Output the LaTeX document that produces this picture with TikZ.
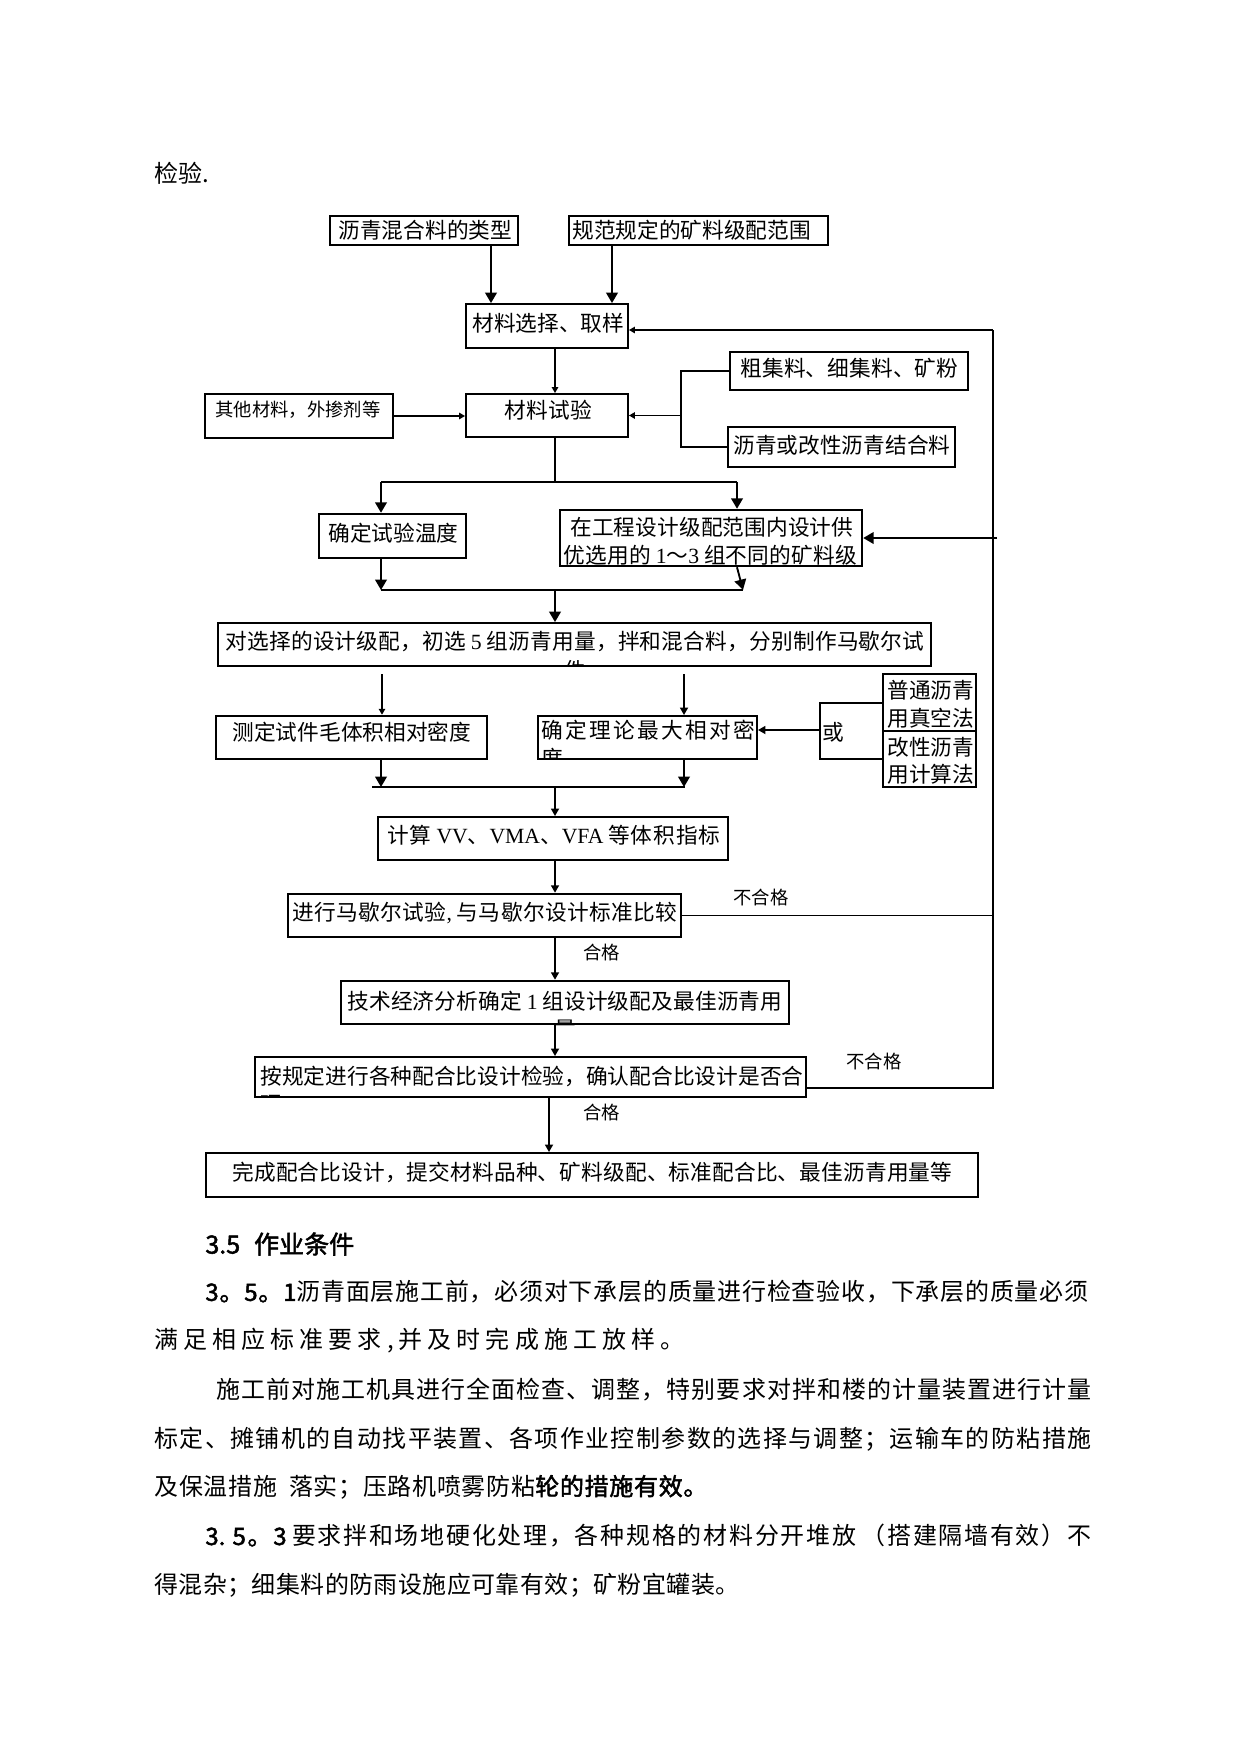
\documentclass[tikz,border=0pt]{standalone}
\usepackage{fontspec}
\setmainfont{Noto Sans CJK SC}
\newfontfamily\lat{Liberation Serif}
\newfontfamily\cjkb{Noto Sans CJK SC}[FakeBold=2]
\usetikzlibrary{arrows.meta}
\newlength\pxu \setlength\pxu{0.4797pt}
\XeTeXinterchartokenstate=1
\newcount\ccnt
\ccnt="4E00 \loop \XeTeXcharclass\ccnt=7 \ifnum\ccnt<"9FFF \advance\ccnt by 1 \repeat
\ccnt="3000 \loop \XeTeXcharclass\ccnt=7 \ifnum\ccnt<"303F \advance\ccnt by 1 \repeat
\ccnt="FF00 \loop \XeTeXcharclass\ccnt=7 \ifnum\ccnt<"FFEF \advance\ccnt by 1 \repeat
\XeTeXinterchartoks 7 7 = {\hskip 0pt plus 1fil\relax}
\XeTeXinterchartoks 7 0 = {\hskip 0pt plus 1fil\relax}
\XeTeXinterchartoks 0 7 = {\hskip 0pt plus 1fil\relax}
\newcommand\jw[2]{\makebox[#1\pxu][s]{#2}}
\newcommand\bxf{\fontsize{10.4pt}{12pt}\selectfont}
\newcommand\smf{\fontsize{8.8pt}{10pt}\selectfont}
\newcommand\bdf{\fontsize{11.5pt}{14pt}\selectfont}
\newcommand\bx[6]{\node[#6, minimum width={(#4-#2)*\pxu}, minimum height={(#5-#3)*\pxu}] (#1) at ({(#2+#4)/2},{(#3+#5)/2}) {};}
\tikzset{
 bxthick/.style={draw, line width=1.2pt, inner sep=0pt},
 bxmid/.style={draw, line width=0.9pt, inner sep=0pt},
 bxthin/.style={draw, line width=0.5pt, inner sep=0pt},
 txt/.style={anchor=west, inner sep=0pt, font=\bxf},
 ctxt/.style={inner sep=0pt, font=\bxf},
 lbl/.style={anchor=west, inner sep=0pt, font=\smf},
 body/.style={anchor=west, inner sep=0pt, font=\bdf},
 conn/.style={line width=0.9pt},
 thinconn/.style={line width=0.5pt},
 arbig/.style={conn, -{Triangle[length=5pt,width=5.6pt]}},
 armid/.style={conn, -{Triangle[length=3.6pt,width=3.8pt]}},
 arsml/.style={conn, -{Triangle[length=2.8pt,width=3pt]}},
}
\begin{document}
\begin{tikzpicture}[x=0.4797pt, y=-0.4797pt]
\useasboundingbox (0,0) rectangle (1241,1754);
\fill[white] (0,0) rectangle (1241,1754);

% boxes
\bx{t1}{330}{216}{518}{245}{bxthick}
\bx{t2}{569}{216}{828}{245}{bxmid}
\bx{s1}{466}{304}{628}{348}{bxmid}
\bx{s2}{466}{394}{628}{437}{bxmid}
\bx{o1}{205}{394}{393}{438}{bxthick}
\bx{r1}{730}{352}{968}{390}{bxmid}
\bx{r2}{728}{427}{955}{467}{bxthin}
\bx{w1}{319}{514}{466}{558}{bxthick}
\bx{w2}{560}{510}{862}{566}{bxthick}
\bx{d1}{218}{623}{931}{666}{bxmid}
\bx{m1}{216}{716}{487}{759}{bxthick}
\bx{m2}{538}{716}{757}{759}{bxmid}
\bx{p1}{883}{674}{976}{731}{bxmid}
\bx{p2}{883}{731}{976}{787}{bxmid}
\bx{c1}{378}{817}{728}{860}{bxmid}
\bx{k1}{288}{894}{681}{937}{bxthick}
\bx{j1}{341}{981}{789}{1024}{bxthick}
\bx{a1}{255}{1057}{806}{1097}{bxmid}
\bx{f1}{206}{1153}{978}{1197}{bxmid}

% box texts
\node[txt] (t1t) at (338,230) {\jw{174}{沥青混合料的类型}};
\node[txt] (t2t) at (572,230) {\jw{238}{规范规定的矿料级配范围}};
\node[txt] (s1t) at (472,323) {\jw{151}{材料选择、取样}};
\node[txt] (s2t) at (504,410) {\jw{88}{材料试验}};
\node[txt,font=\smf] (o1t) at (215,410) {\jw{165}{其他材料，外掺剂等}};
\node[txt] (r1t) at (740,368) {\jw{218}{粗集料、细集料、矿粉}};
\node[txt] (r2t) at (733,445) {\jw{217}{沥青或改性沥青结合料}};
\node[txt] (w1t) at (328,533) {\jw{130}{确定试验温度}};
\node[txt] (w2a) at (570,527) {\jw{283}{在工程设计级配范围内设计供}};
\node[txt] (w2b) at (563,555) {\jw{294}{优选用的 {\lat 1}～{\lat 3} 组不同的矿料级}};
\node[txt] (d1a) at (225,642) {\jw{699}{对选择的设计级配，初选 {\lat 5} 组沥青用量，拌和混合料，分别制作马歇尔试}};
\begin{scope}
\clip (d1.south west) rectangle (d1.north east);
\node[ctxt] (d1b) at (575,670) {件};
\end{scope}
\node[txt] (m1t) at (232,732) {\jw{239}{测定试件毛体积相对密度}};
\node[txt] (m2t) at (541,730) {\jw{214}{确定理论最大相对密}};
\begin{scope}
\clip (m2.south west) rectangle (m2.north east);
\node[txt] (m2b) at (541,758) {度};
\end{scope}
\node[txt] (ort) at (822,732) {或};
\node[txt] (p1a) at (887,690) {普通沥青};
\node[txt] (p1b) at (887,718) {用真空法};
\node[txt] (p2a) at (887,747) {改性沥青};
\node[txt] (p2b) at (887,774) {用计算法};
\node[txt] (c1t) at (387,835) {\jw{333}{计算 {\lat VV}、{\lat VMA}、{\lat VFA} 等体积指标}};
\node[txt] (k1t) at (292,913) {\jw{385}{进行马歇尔试验{\lat ,} 与马歇尔设计标准比较}};
\node[txt] (j1t) at (347,1001) {\jw{435}{技术经济分析确定 {\lat 1} 组设计级配及最佳沥青用}};
\begin{scope}
\clip (j1.south west) rectangle (j1.north east);
\node[ctxt] (j1b) at (565,1029) {量};
\end{scope}
\node[txt] (a1t) at (260,1076) {\jw{543}{按规定进行各种配合比设计检验，确认配合比设计是否合}};
\begin{scope}
\clip (a1.south west) rectangle (a1.north east);
\node[txt] (a1b) at (260,1104) {理};
\end{scope}
\node[txt] (f1t) at (232,1172) {\jw{720}{完成配合比设计，提交材料品种、矿料级配、标准配合比、最佳沥青用量等}};

% labels
\node[lbl] (ng1) at (733,898) {不合格};
\node[lbl] (ok1) at (583,952) {合格};
\node[lbl] (ng2) at (846,1061) {不合格};
\node[lbl] (ok2) at (583,1112) {合格};

% coordinates
\coordinate (xa) at (491,0);
\coordinate (xb) at (612,0);
\coordinate (cC) at (555,0);
\coordinate (cF) at (549,0);
\coordinate (brx) at (681,0);
\coordinate (fbx) at (993,0);
\coordinate (yFb) at (0,330);
\coordinate (yA1) at (0,1088);
\coordinate (spL) at (381,482);
\coordinate (spR) at (737,482);
\coordinate (mgL) at (381,590);
\coordinate (mgR) at (743,590);
\coordinate (dA) at (382,674);
\coordinate (dB) at (684,674);
\coordinate (mg2L) at (372,787);
\coordinate (mg2R) at (685,787);
\coordinate (orTop) at (820,703);
\coordinate (orBot) at (820,759);
\coordinate (orMid) at (820,730);
\coordinate (fbw) at (997,538);

% connectors
\draw[arbig] (t1.south -| xa) -- (s1.north -| xa);
\draw[arbig] (t2.south -| xb) -- (s1.north -| xb);
\draw[arsml] (s1.south -| cC) -- (s2.north -| cC);
\draw[arsml] (o1.east) -- (s2.west |- o1.east);
\draw[conn] (r1.west) -- (r1.west -| brx) -- (r2.west -| brx) -- (r2.west);
\draw[arsml] (brx |- s2.east) -- (s2.east);
\draw[conn, line width=1.1pt] (a1.east |- yA1) -- (fbx |- yA1) -- (fbx |- yFb);
\draw[arsml] (fbx |- yFb) -- (s1.east |- yFb);
\draw[thinconn] (k1.east) -- (fbx |- k1.east);
\draw[arbig] (fbw) -- (w2.east |- fbw);
\draw[conn] (s2.south -| cC) -- (cC |- spL);
\draw[conn] (spL) -- (spR);
\draw[arbig] (spL) -- (w1.north -| spL);
\draw[arbig] (spR) -- (w2.north -| spR);
\draw[arbig] (w1.south -| mgL) -- (mgL);
\draw[arbig] (w2.south -| spR) -- (mgR);
\draw[conn] (mgL) -- (mgR);
\draw[arbig] (cC |- mgL) -- (d1.north -| cC);
\draw[arsml] (dA) -- (m1.north -| dA);
\draw[armid] (dB) -- (m2.north -| dB);
\draw[arbig] (m1.south -| mgL) -- (mgL |- mg2L);
\draw[arbig] (m2.south -| dB) -- (dB |- mg2L);
\draw[conn] (mg2L) -- (mg2R);
\draw[armid] (cC |- mg2L) -- (c1.north -| cC);
\draw[conn, line width=0.7pt] (p1.west |- orTop) -- (orTop) -- (orBot) -- (p2.west |- orBot);
\draw[armid, line width=1.3pt] (orMid) -- (m2.east |- orMid);
\draw[armid] (c1.south -| cC) -- (k1.north -| cC);
\draw[armid] (k1.south -| cC) -- (j1.north -| cC);
\draw[armid] (j1.south -| cC) -- (a1.north -| cC);
\draw[armid] (a1.south -| cF) -- (f1.north -| cF);

% body text
\node[body] (b0) at (154,173) {检验.};
\node[body,font=\cjkb\fontsize{12pt}{14pt}\selectfont] (b1) at (205,1244) {3.5\hspace{14\pxu}作业条件};
\node[body] (b2) at (205,1292) {\jw{883}{{\cjkb 3。5。1}沥青面层施工前，必须对下承层的质量进行检查验收，下承层的质量必须}};
\node[body] (b3) at (154,1341) {\jw{530}{满足相应标准要求,并及时完成施工放样。}};
\node[body] (b4) at (216,1390) {\jw{875}{施工前对施工机具进行全面检查、调整，特别要求对拌和楼的计量装置进行计量}};
\node[body] (b5) at (154,1439) {\jw{937}{标定、摊铺机的自动找平装置、各项作业控制参数的选择与调整；运输车的防粘措施}};
\node[body] (b6) at (154,1487) {\jw{553}{及保温措施\hspace{12\pxu}落实；压路机喷雾防粘{\cjkb 轮的措施有效。}}};
\node[body] (b7) at (205,1536) {\jw{886}{{\cjkb 3. 5。3} 要求拌和场地硬化处理，各种规格的材料分开堆放 （搭建隔墙有效）不}};
\node[body] (b8) at (154,1585) {\jw{585}{得混杂；细集料的防雨设施应可靠有效；矿粉宜罐装。}};
\end{tikzpicture}
\end{document}
